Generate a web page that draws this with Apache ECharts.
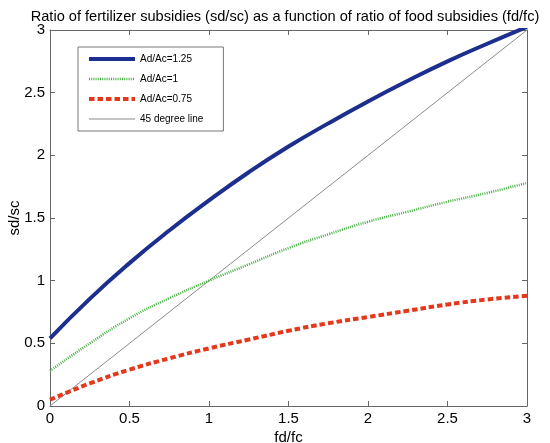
<!DOCTYPE html>
<html>
<head>
<meta charset="utf-8">
<script src="https://cdn.jsdelivr.net/npm/echarts@6/dist/echarts.min.js"></script>
<style>html,body{margin:0;padding:0;background:#fff}#c{width:550px;height:443px}</style>
</head>
<body>
<div id="c"></div>
<script>
const xValues = [0, 0.25, 0.5, 0.75, 1, 1.25, 1.5, 1.75, 2, 2.25, 2.5, 2.75, 3];
const seriesHigh = [0.54, 0.855, 1.14, 1.40, 1.64, 1.865, 2.07, 2.255, 2.43, 2.595, 2.75, 2.89, 3.025];
const seriesMid = [0.28, 0.50, 0.70, 0.86, 1.0, 1.13, 1.26, 1.37, 1.47, 1.55, 1.63, 1.70, 1.78];
const seriesLow = [0.05, 0.18, 0.29, 0.38, 0.46, 0.53, 0.60, 0.66, 0.71, 0.76, 0.81, 0.85, 0.88];
const lineX = [0, 3];
const lineY = [0, 3];
const tickLabels = ['0', '0.5', '1', '1.5', '2', '2.5', '3'];
const names = ['Ad/Ac=1.25', 'Ad/Ac=1', 'Ad/Ac=0.75', '45 degree line'];

const pair = (xs, ys) => xs.map((x, i) => [x, ys[i]]);
const font = 'Arial, "Liberation Sans", sans-serif';
const fmt = v => tickLabels[Math.round(v * 2)] !== undefined ? tickLabels[Math.round(v * 2)] : String(v);

const chart = echarts.init(document.getElementById('c'), null, {renderer: 'canvas'});
const axisCommon = {
  type: 'value', min: 0, max: 3, interval: 0.5,
  axisLine: {show: true, onZero: false, lineStyle: {color: '#666', width: 1}},
  axisTick: {show: true, inside: true, length: 5, lineStyle: {color: '#666'}},
  splitLine: {show: false}
};
const legendWidths = [4, 2.5, 4, 1.2];
chart.setOption({
  animation: false,
  title: {
    text: 'Ratio of fertilizer subsidies (sd/sc) as a function of ratio of food subsidies (fd/fc)',
    left: 280, textAlign: 'center', top: 4,
    textStyle: {fontFamily: font, fontSize: 14.6, fontWeight: 'normal', color: '#000'}
  },
  grid: {left: 50, right: 23, top: 30, bottom: 37, show: false, outerBoundsMode: 'none', containLabel: false},
  legend: {
    orient: 'vertical', left: 78, top: 47,
    padding: [7, 20, 7, 9], itemWidth: 46, itemHeight: 10, itemGap: 10,
    borderColor: '#777', borderWidth: 1, backgroundColor: '#fff',
    textStyle: {fontFamily: font, fontSize: 10, color: '#000'},
    itemStyle: {opacity: 0},
    data: names.map((n, i) => ({name: n, itemStyle: {opacity: 0}, lineStyle: {width: legendWidths[i]}}))
  },
  xAxis: [
    Object.assign({}, axisCommon, {
      position: 'bottom', name: 'fd/fc', nameLocation: 'middle', nameGap: 24, nameMoveOverlap: false,
      nameTextStyle: {fontFamily: font, fontSize: 15, color: '#000'},
      axisLabel: {fontFamily: font, fontSize: 15, color: '#000', margin: 5, formatter: fmt}
    }),
    Object.assign({}, axisCommon, {position: 'top', axisLabel: {show: false}})
  ],
  yAxis: [
    Object.assign({}, axisCommon, {
      position: 'left', name: 'sd/sc', nameLocation: 'middle', nameGap: 28, nameMoveOverlap: false,
      nameTextStyle: {fontFamily: font, fontSize: 15, color: '#000'},
      axisLabel: {fontFamily: font, fontSize: 15, color: '#000', margin: 5, formatter: fmt}
    }),
    Object.assign({}, axisCommon, {position: 'right', axisLabel: {show: false}})
  ],
  series: [
    {name: names[0], type: 'line', smooth: true, symbol: 'none', clip: true,
     data: pair(xValues, seriesHigh), lineStyle: {color: '#1d2f8e', width: 4}, itemStyle: {color: '#1d2f8e'}, z: 4},
    {name: names[1], type: 'line', smooth: true, symbol: 'none', clip: true,
     data: pair(xValues, seriesMid), lineStyle: {color: '#44b040', width: 2.5, type: [1, 1.2]}, itemStyle: {color: '#44b040'}, z: 3},
    {name: names[2], type: 'line', smooth: true, symbol: 'none', clip: true,
     data: pair(xValues, seriesLow), lineStyle: {color: '#e4381c', width: 4, type: [5.5, 3]}, itemStyle: {color: '#e4381c'}, z: 3},
    {name: names[3], type: 'line', symbol: 'none', clip: true,
     data: pair(lineX, lineY), lineStyle: {color: '#8a8a8a', width: 1}, itemStyle: {color: '#8a8a8a'}, z: 2}
  ]
});
</script>
</body>
</html>
